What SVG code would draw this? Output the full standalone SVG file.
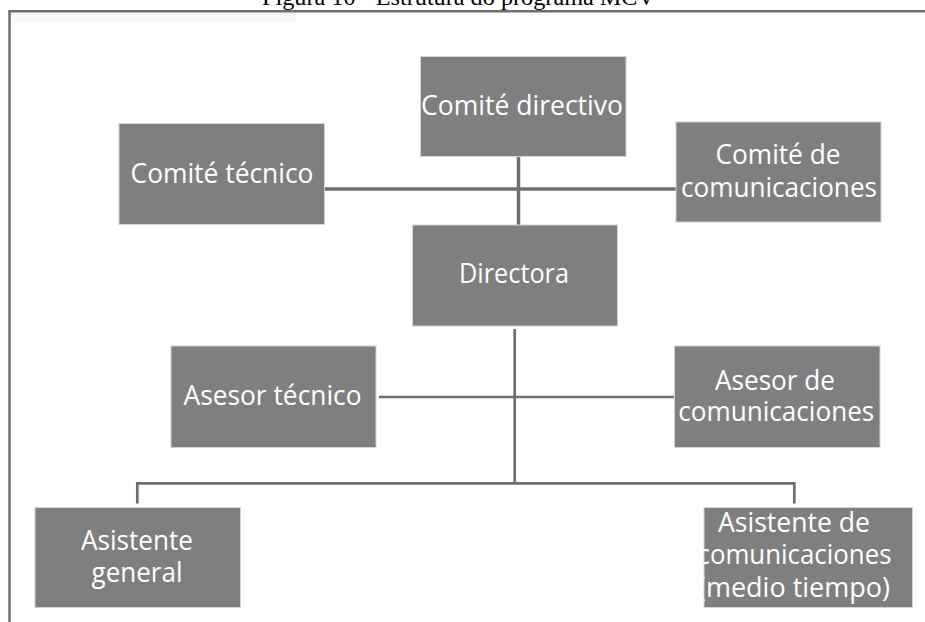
<svg xmlns="http://www.w3.org/2000/svg" width="925" height="622" viewBox="0 0 925 622">
<style>
.box{fill:#7f7f7f;stroke:#d4d4d4;stroke-width:1}
.lbl{fill:#ffffff;font-family:"Open Sans","Noto Sans",sans-serif;font-size:27px;text-anchor:middle}
.ln{stroke:#6e6e6e;fill:none}
.title{font-family:"Liberation Serif","Times New Roman",serif;font-size:24px;fill:#000}
</style>
<rect width="925" height="622" fill="#ffffff"/>
<text class="title" x="262" y="5" textLength="393" lengthAdjust="spacingAndGlyphs">Figura 10 - Estrutura do programa MCV</text>
<rect x="11" y="13" width="285" height="10" fill="#f8f8f8"/>
<g id="frame" class="ln" stroke-width="2.5">
<path d="M9.5 622 V11.2 H925"/>
</g>
<g id="connectors" class="ln">
<path d="M518.5 156 V241" stroke-width="3.5"/>
<path d="M324 189 H676" stroke-width="3.5"/>
<path d="M514.7 329 V484" stroke-width="2.7"/>
<path d="M379 397 H674" stroke-width="2.7"/>
<path d="M137.3 503.5 V483.3 H794.3 V503.5" stroke-width="2.7"/>
</g>
<g id="comite-directivo">
<rect class="box" x="420.5" y="56.5" width="205.5" height="100"/>
<text class="lbl" x="522" y="115" textLength="202" lengthAdjust="spacingAndGlyphs">Comité directivo</text>
</g>
<g id="comite-tecnico">
<rect class="box" x="119" y="123.5" width="205.5" height="101"/>
<text class="lbl" x="222" y="182.7" textLength="183" lengthAdjust="spacingAndGlyphs">Comité técnico</text>
</g>
<g id="comite-comunicaciones">
<rect class="box" x="676" y="122" width="205" height="100"/>
<text class="lbl" x="778" y="164" textLength="125" lengthAdjust="spacingAndGlyphs">Comité de</text>
<text class="lbl" x="779" y="196.5" textLength="196" lengthAdjust="spacingAndGlyphs">comunicaciones</text>
</g>
<g id="directora">
<rect class="box" x="412.5" y="225" width="205" height="101"/>
<text class="lbl" x="514" y="282.7" textLength="110" lengthAdjust="spacingAndGlyphs">Directora</text>
</g>
<g id="asesor-tecnico">
<rect class="box" x="171" y="346" width="205" height="101.5"/>
<text class="lbl" x="272.5" y="405" textLength="178" lengthAdjust="spacingAndGlyphs">Asesor técnico</text>
</g>
<g id="asesor-comunicaciones">
<rect class="box" x="674.5" y="346" width="205.5" height="101.5"/>
<text class="lbl" x="775" y="390" textLength="120" lengthAdjust="spacingAndGlyphs">Asesor de</text>
<text class="lbl" x="776.3" y="420.7" textLength="196" lengthAdjust="spacingAndGlyphs">comunicaciones</text>
</g>
<g id="asistente-general">
<rect class="box" x="35" y="507.5" width="205.5" height="100"/>
<text class="lbl" x="137" y="550" textLength="112" lengthAdjust="spacingAndGlyphs">Asistente</text>
<text class="lbl" x="137" y="581.7" textLength="91" lengthAdjust="spacingAndGlyphs">general</text>
</g>
<g id="asistente-comunicaciones">
<rect class="box" x="704" y="507.5" width="208.5" height="100"/>
<text class="lbl" x="794" y="532.3" textLength="152" lengthAdjust="spacingAndGlyphs">Asistente de</text>
<text class="lbl" x="794.5" y="564.3" textLength="194" lengthAdjust="spacingAndGlyphs">comunicaciones</text>
<text class="lbl" x="794" y="597.3" textLength="192" lengthAdjust="spacingAndGlyphs">(medio tiempo)</text>
</g>
</svg>
